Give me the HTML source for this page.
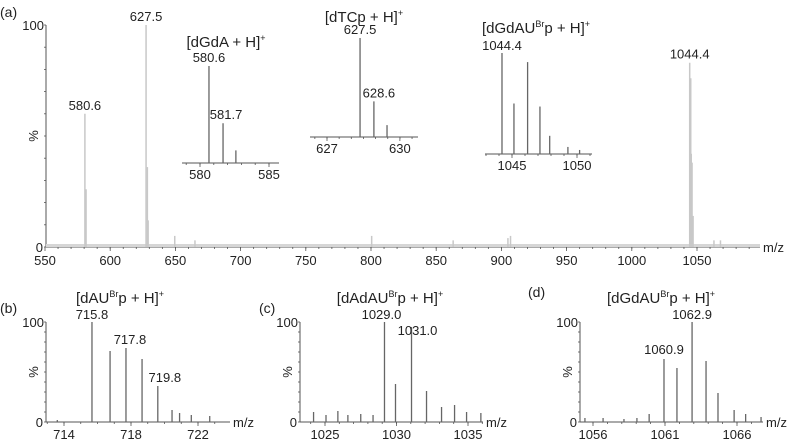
<!DOCTYPE html>
<html><head><meta charset="utf-8"><style>
html,body{margin:0;padding:0;background:#fff;}
svg{display:block;font-family:"Liberation Sans",Arial,sans-serif;}
text{fill:#222;}
</style></head><body>
<svg id="fig" width="789" height="441" viewBox="0 0 789 441"></svg>
<script>
// ---------- DATA ----------
const mainMz = [580.6, 581.5, 627.5, 628.5, 629.1, 1044.4, 1045.2, 1045.6, 1046.2, 1047.0, 649.5, 665, 800.5, 863, 905, 907, 1063, 1068];
const mainInt = [60, 26, 100, 36, 12, 83, 76, 42, 38, 14, 5, 3, 5, 3, 4, 5, 3, 3];
const mainTicks = [550, 600, 650, 700, 750, 800, 850, 900, 950, 1000, 1050];
const gaMz = [580.65, 581.67, 582.6];
const gaInt = [100, 41, 13];
const gaTicks = [580, 585];
const tcMz = [628.36, 628.93, 629.47];
const tcInt = [100, 36, 12];
const tcTicks = [627, 630];
const gauMz = [1044.23, 1045.15, 1046.2, 1047.15, 1047.9, 1049.3, 1050.2];
const gauInt = [100, 50, 91, 47, 18, 7, 4];
const gauTicks = [1045, 1050];
const bMz = [713.6, 715.67, 716.75, 717.7, 718.66, 719.6, 720.45, 720.9, 721.6, 722.7];
const bInt = [2, 100, 71, 74, 63, 36, 12, 9, 7, 6];
const bTicks = [714, 718, 722];
const cMz = [1024.2, 1025.07, 1025.9, 1026.6, 1027.5, 1028.36, 1029.16, 1029.93, 1031.05, 1032.1, 1033.15, 1034.06, 1034.9, 1035.9];
const cInt = [10, 7, 11, 7, 8, 7, 100, 38, 95, 31, 15, 17, 10, 9];
const cTicks = [1025, 1030, 1035];
const dMz = [1055.44, 1056.7, 1058.15, 1059.05, 1059.9, 1060.93, 1061.83, 1062.88, 1063.85, 1064.68, 1065.8, 1066.6, 1067.67];
const dInt = [4, 4, 3, 4, 8, 63, 54, 100, 61, 29, 12, 8, 5];
const dTicks = [1056, 1061, 1066];

// ---------- DRAW ----------
const NS = "http://www.w3.org/2000/svg";
const svg = document.getElementById('fig');
function mk(tag, attrs, parent, txt) {
  const e = document.createElementNS(NS, tag);
  for (const k in attrs) e.setAttribute(k, attrs[k]);
  if (txt !== undefined) e.textContent = txt;
  (parent || svg).appendChild(e);
  return e;
}
function line(x1, y1, x2, y2, col, w, p) { return mk('line', {x1, y1, x2, y2, stroke: col, 'stroke-width': w}, p); }
function txt(x, y, s, size, anchor, p) { return mk('text', {x, y, 'font-size': size, 'text-anchor': anchor || 'middle'}, p, s); }

function panel(cfg) {
  const g = mk('g', {});
  
  
  const xs = v => cfg.x0 + (v - cfg.m0) * cfg.k;
  const ys = v => cfg.yb - v / 100 * cfg.h;
  const ax = line(cfg.ax1, cfg.yb, cfg.ax2, cfg.yb, cfg.axcol, 1, g);
  
  
  if (cfg.yaxis) {
    const ay = line(cfg.ax1, cfg.yb, cfg.ax1, cfg.yb - cfg.h, cfg.axcol, 1, g);
    
    
    for (let i = 0; i <= 10; i++) line(cfg.ax1 - 2, ys(i * 10), cfg.ax1, ys(i * 10), cfg.axcol, 0.8, g);
    const t100 = txt(cfg.ax1 - 2, ys(100) + 5, '100', 13, 'end', g);
    
    
    const t0 = txt(cfg.ax1 - 3, cfg.yb + 5, '0', 13, 'end', g);
    
    
    const pc = mk('text', {x: 0, y: 0, 'font-size': 13, 'text-anchor': 'middle', transform: `translate(${cfg.ax1 - 8},${ys(50)}) rotate(-90)`}, g, '%');
    
    
  }
  const step = cfg.minor;
  for (let v = Math.ceil((cfg.m0 + (cfg.ax1 - cfg.x0) / cfg.k) / step) * step; xs(v) <= cfg.ax2; v += step) {
    line(xs(v), cfg.yb, xs(v), cfg.yb + 2, cfg.axcol, 0.8, g);
  }
  cfg.ticks.forEach(t => {
    line(xs(t), cfg.yb, xs(t), cfg.yb + 4, cfg.axcol, 0.8, g);
    const tl = txt(xs(t), cfg.yb + cfg.tdy, String(t), cfg.tsize, 'middle', g);
    
    
  });
  if (cfg.noise) {
    const n = mk('rect', {x: cfg.ax1, y: cfg.yb - 3, width: cfg.ax2 - cfg.ax1, height: 3, fill: '#d6d6d6'}, g);
    
    
  }
  cfg.mz.forEach((m, i) => {
    const b = line(xs(m), cfg.yb, xs(m), ys(cfg.int[i]), cfg.col, cfg.pw, g);
    
    
  });
  (cfg.labels || []).forEach(l => {
    const t = txt(xs(cfg.mz[l[0]]) + (l[2] || 0), ys(cfg.int[l[0]]) - 4 + (l[3] || 0), l[1], cfg.lsize || 13, 'middle', g);
    
    
  });
  if (cfg.mzlabel) {
    const t = txt(cfg.ax2 + 3, cfg.yb + 5, 'm/z', 13, 'start', g);
    
    
  }
  return g;
}

panel({name: 'panel-a-full-spectrum', x0: 45, m0: 550, k: 1.304, yb: 247, h: 222, ax1: 46, ax2: 760,
  axcol: '#555', yaxis: true, ticks: mainTicks, minor: 10, tdy: 18, tsize: 13, noise: true,
  mz: mainMz, int: mainInt, col: '#c8c8c8', pw: 1.5, mzlabel: true,
  labels: [[0, '580.6'], [2, '627.5'], [5, '1044.4']]});
panel({name: 'inset-dgda', x0: 200, m0: 580, k: 13.8, yb: 163, h: 97, ax1: 182, ax2: 279,
  axcol: '#555', ticks: gaTicks, minor: 1, tdy: 16, tsize: 13,
  mz: gaMz, int: gaInt, col: '#666', pw: 1.3, labels: [[0, '580.6'], [1, '581.7', 3]]});
panel({name: 'inset-dtcp', x0: 327, m0: 627, k: 24.3, yb: 137, h: 99, ax1: 310, ax2: 418,
  axcol: '#555', ticks: tcTicks, minor: 0.5, tdy: 16, tsize: 13,
  mz: tcMz, int: tcInt, col: '#666', pw: 1.3, labels: [[0, '627.5'], [1, '628.6', 5]]});
panel({name: 'inset-dgdaubrp', x0: 512, m0: 1045, k: 13, yb: 154, h: 101, ax1: 485, ax2: 592,
  axcol: '#555', ticks: gauTicks, minor: 1, tdy: 16, tsize: 13,
  mz: gauMz, int: gauInt, col: '#666', pw: 1.3, labels: [[0, '1044.4', 0, 1]]});
panel({name: 'panel-b', x0: 64, m0: 714, k: 16.75, yb: 422, h: 100, ax1: 46, ax2: 230,
  axcol: '#555', yaxis: true, ticks: bTicks, minor: 1, tdy: 17, tsize: 13, mzlabel: true,
  mz: bMz, int: bInt, col: '#666', pw: 1.3, labels: [[1, '715.8', 0, 1], [3, '717.8', 4], [5, '719.8', 7]]});
panel({name: 'panel-c', x0: 325, m0: 1025, k: 14.3, yb: 422, h: 100, ax1: 300, ax2: 483,
  axcol: '#555', yaxis: true, ticks: cTicks, minor: 1, tdy: 17, tsize: 13, mzlabel: true,
  mz: cMz, int: cInt, col: '#666', pw: 1.3, labels: [[6, '1029.0', -3, 1], [8, '1031.0', 6, 12]]});
panel({name: 'panel-d', x0: 593, m0: 1056, k: 14.4, yb: 422, h: 100, ax1: 580, ax2: 763,
  axcol: '#555', yaxis: true, ticks: dTicks, minor: 1, tdy: 17, tsize: 13, mzlabel: true,
  mz: dMz, int: dInt, col: '#666', pw: 1.3, labels: [[7, '1062.9', 0, 1], [5, '1060.9', 0, -1]]});

function title(x, y, html, name) {
  const t = mk('text', {x, y, 'font-size': 15, 'text-anchor': 'middle'});
  t.innerHTML = html;
  
  
}
title(226, 47, '[dGdA + H]<tspan dy="-6" font-size="9">+</tspan>', 'title-dgda');
title(364, 22, '[dTCp + H]<tspan dy="-6" font-size="9">+</tspan>', 'title-dtcp');
title(536, 33, '[dGdAU<tspan dy="-6" font-size="9">Br</tspan><tspan dy="6">p + H]</tspan><tspan dy="-6" font-size="9">+</tspan>', 'title-dgdaubrp');
title(120, 303, '[dAU<tspan dy="-6" font-size="9">Br</tspan><tspan dy="6">p + H]</tspan><tspan dy="-6" font-size="9">+</tspan>', 'title-panel-b');
title(390, 303, '[dAdAU<tspan dy="-6" font-size="9">Br</tspan><tspan dy="6">p + H]</tspan><tspan dy="-6" font-size="9">+</tspan>', 'title-panel-c');
title(661, 303, '[dGdAU<tspan dy="-6" font-size="9">Br</tspan><tspan dy="6">p + H]</tspan><tspan dy="-6" font-size="9">+</tspan>', 'title-panel-d');
[['(a)', 0, 17], ['(b)', 0, 313], ['(c)', 259, 313], ['(d)', 528, 297]].forEach(p => {
  const t = mk('text', {x: p[1], y: p[2], 'font-size': 14, 'text-anchor': 'start'}, svg, p[0]);
  
  
});
</script>
</body></html>
